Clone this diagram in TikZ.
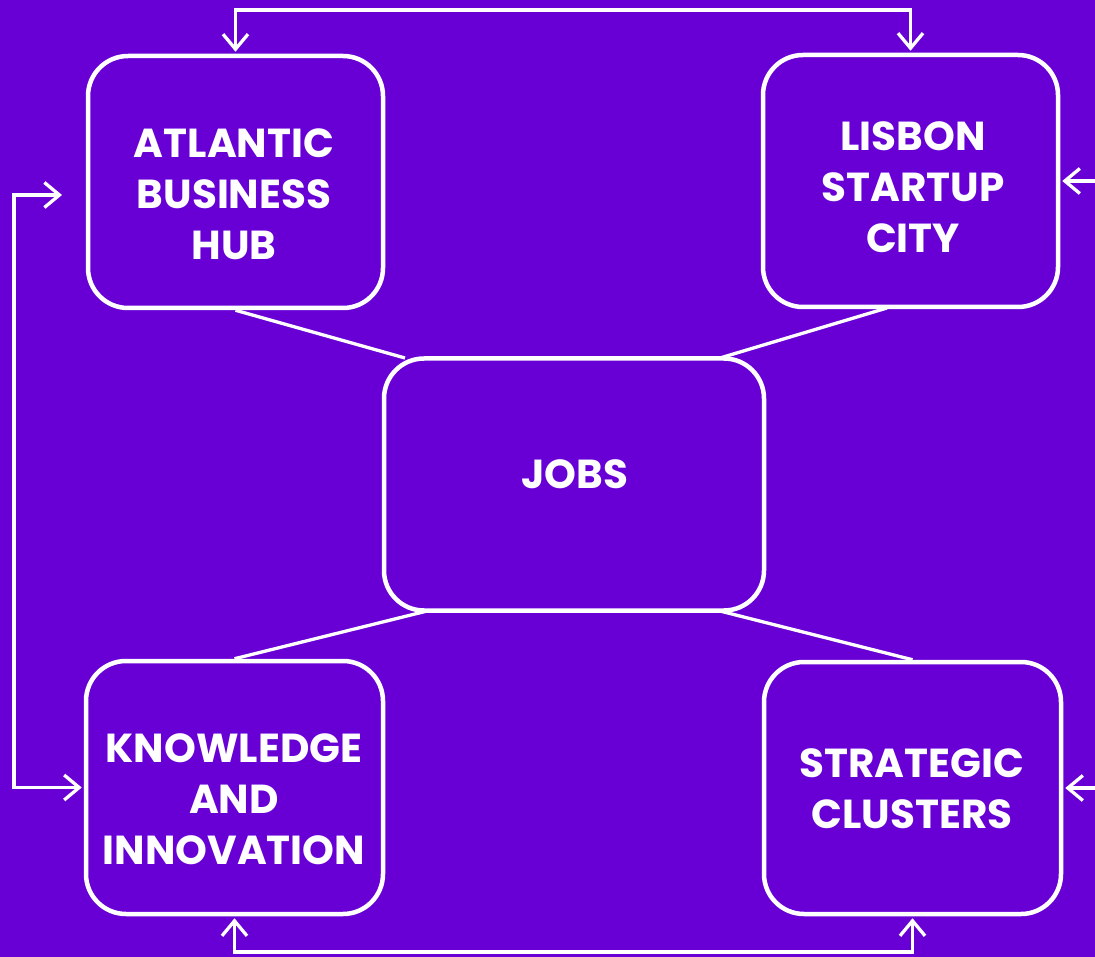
\documentclass[tikz,border=0pt]{standalone}
\usepackage{fontspec}
\setmainfont{Poppins}
\usetikzlibrary{arrows.meta}
\definecolor{bg}{RGB}{104,0,214}
\begin{document}
\begin{tikzpicture}[x=1pt,y=-1pt,
  box/.style={draw=white, line width=4.5pt, rounded corners=40pt, inner sep=0pt},
  lbl/.style={text=white, align=center, inner sep=0pt, font=\fontsize{40.5}{51}\selectfont\bfseries},
  conn/.style={draw=white, line width=3.3pt},
  barb/.tip={Straight Barb[length=15pt,width=25pt]},
  spoke/.style={draw=white, line width=3.3pt}
]
\fill[bg] (0,0) rectangle (1095,957);
\useasboundingbox (0,0) rectangle (1095,957);

% boxes
\node[box, minimum width=295pt, minimum height=252pt] (abh) at (235.5,182) {};
\node[box, minimum width=295pt, minimum height=252pt] (lsc) at (910.5,181) {};
\node[box, minimum width=380pt, minimum height=252pt] (jobs) at (574,484.5) {};
\node[box, minimum width=297pt, minimum height=253pt] (ki) at (234.5,787.5) {};
\node[box, minimum width=297pt, minimum height=252pt] (sc) at (912.5,788) {};

% labels
\node[lbl] (abhl) at (234,194) {ATLANTIC\\BUSINESS\\HUB};
\node[lbl] (lscl) at (913,187) {LISBON\\STARTUP\\CITY};
\node[lbl] (kil) at (234,799) {KNOWLEDGE\\AND\\INNOVATION};
\node[lbl] (scl) at (912,789) {STRATEGIC\\CLUSTERS};
\node[lbl] (jobsl) at (575,474) {JOBS};

% spoke anchors
\coordinate (j1) at (405,358);
\coordinate (j2) at (720,358);
\coordinate (j3) at (427,611);
\coordinate (j4) at (720,611);
\coordinate (lscb) at (887,308);
\draw[spoke] (abh.south) -- (j1);
\draw[spoke] (lscb) -- (j2);
\draw[spoke] (ki.north) -- (j3);
\draw[spoke] (sc.north) -- (j4);

% top loop
\coordinate (t1) at (235.5,10);
\coordinate (t2) at (910.5,10);
\draw[conn, barb-barb, shorten <=2pt, shorten >=2pt] (abh.north) -- (t1) -- (t2) -- (lsc.north);

% left loop
\coordinate (la) at (62,195);
\coordinate (l1) at (14,195);
\coordinate (l2) at (14,787.5);
\draw[conn, barb-barb, shorten >=2pt] (la) -- (l1) -- (l2) -- (ki.west);

% bottom loop
\coordinate (b1) at (234.5,952);
\coordinate (b2) at (912.5,952);
\draw[conn, barb-barb, shorten <=2pt, shorten >=2pt] (ki.south) -- (b1) -- (b2) -- (sc.south);

% right arrows (coming from beyond the right edge)
\coordinate (r1) at (1110,181);
\coordinate (r2) at (1110,788);
\draw[conn, -barb, shorten >=2pt] (r1) -- (lsc.east);
\draw[conn, -barb, shorten >=2pt] (r2) -- (sc.east);
\end{tikzpicture}
\end{document}
